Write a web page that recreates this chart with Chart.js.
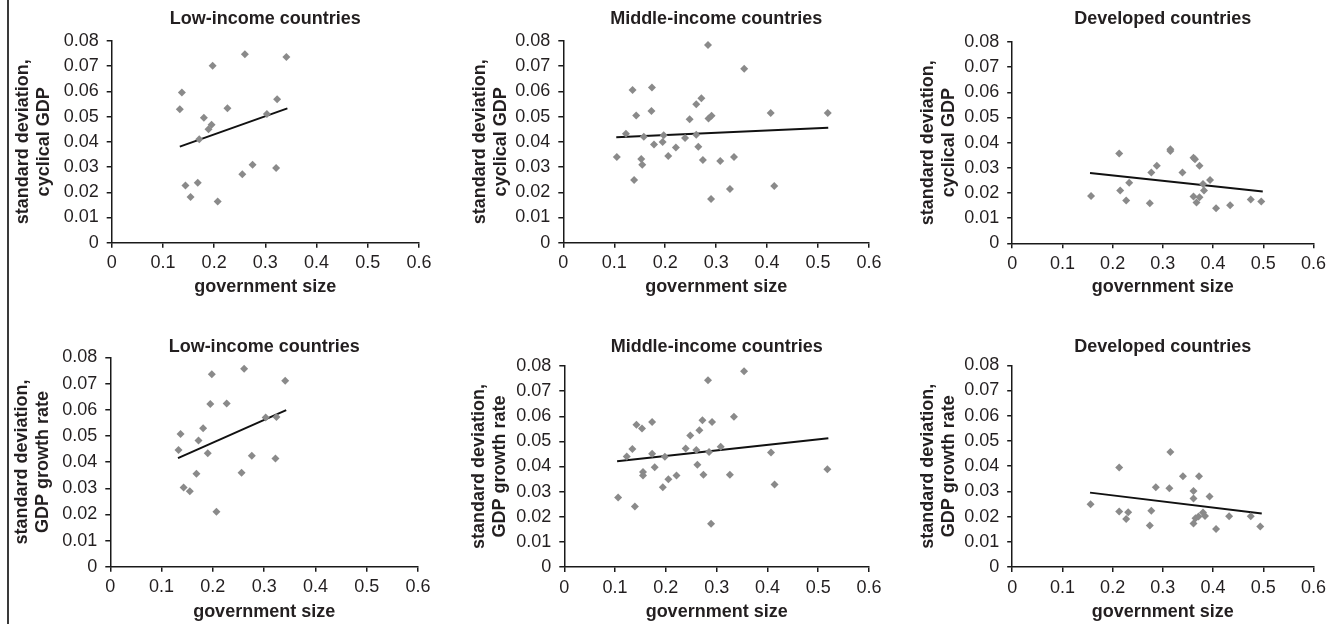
<!DOCTYPE html>
<html>
<head>
<meta charset="utf-8">
<script src="https://cdn.jsdelivr.net/npm/chart.js@4.4.1/dist/chart.umd.min.js"></script>
<style>
  html, body { margin: 0; padding: 0; background: #fff; overflow: hidden; }
  #page { position: relative; width: 1331px; height: 624px; }
  #page canvas { position: absolute; }
  #borde { position: absolute; left: 7px; top: 0; width: 2px; height: 624px; background: #3a3a3a; }
</style>
</head>
<body>
<div id="page">
  <div id="borde"></div>
</div>
<script>
// tick labels
const xTicks = ['0', '0.1', '0.2', '0.3', '0.4', '0.5', '0.6']
const yTicks = ['0', '0.01', '0.02', '0.03', '0.04', '0.05', '0.06', '0.07', '0.08']

const titulos = ['Low-income countries', 'Middle-income countries', 'Developed countries']
const xTitle = 'government size'
const yTitleCyc = ['standard deviation,', 'cyclical GDP']
const yTitleGrow = ['standard deviation,', 'GDP growth rate']

// top row: standard deviation of cyclical GDP
const lowCycX = [0.137, 0.133, 0.197, 0.260, 0.341, 0.323, 0.303, 0.226, 0.180, 0.195, 0.189, 0.171, 0.275, 0.321, 0.255, 0.144, 0.168, 0.154, 0.207]
const lowCycY = [0.0596, 0.0529, 0.0702, 0.0747, 0.0737, 0.0569, 0.0510, 0.0533, 0.0496, 0.0468, 0.0450, 0.0410, 0.0309, 0.0296, 0.0271, 0.0227, 0.0238, 0.0181, 0.0163]
const lowCycFitX = [0.133, 0.343]
const lowCycFitY = [0.0381, 0.0533]

const midCycX = [0.284, 0.355, 0.136, 0.174, 0.173, 0.143, 0.271, 0.261, 0.248, 0.285, 0.291, 0.407, 0.519, 0.123, 0.158, 0.197, 0.195, 0.178, 0.239, 0.261, 0.221, 0.265, 0.105, 0.153, 0.155, 0.206, 0.274, 0.308, 0.335, 0.139, 0.327, 0.414, 0.290]
const midCycY = [0.0784, 0.0690, 0.0606, 0.0616, 0.0522, 0.0505, 0.0573, 0.0549, 0.0490, 0.0493, 0.0504, 0.0514, 0.0514, 0.0432, 0.0420, 0.0426, 0.0399, 0.0389, 0.0415, 0.0428, 0.0378, 0.0381, 0.0340, 0.0332, 0.0309, 0.0344, 0.0328, 0.0324, 0.0340, 0.0249, 0.0213, 0.0225, 0.0173]
const midCycFitX = [0.104, 0.520]
const midCycFitY = [0.0418, 0.0456]

const devCycX = [0.157, 0.213, 0.215, 0.233, 0.227, 0.274, 0.277, 0.288, 0.315, 0.315, 0.339, 0.361, 0.364, 0.373, 0.361, 0.373, 0.367, 0.380, 0.382, 0.394, 0.406, 0.434, 0.475, 0.496]
const devCycY = [0.0188, 0.0357, 0.0210, 0.0241, 0.0170, 0.0159, 0.0281, 0.0308, 0.0374, 0.0367, 0.0281, 0.0340, 0.0334, 0.0308, 0.0186, 0.0183, 0.0162, 0.0236, 0.0210, 0.0252, 0.0139, 0.0151, 0.0174, 0.0166]
const devCycFitX = [0.155, 0.499]
const devCycFitY = [0.0279, 0.0206]

// bottom row: standard deviation of GDP growth rate
const lowGrowX = [0.261, 0.198, 0.341, 0.195, 0.227, 0.303, 0.324, 0.137, 0.181, 0.133, 0.172, 0.190, 0.276, 0.322, 0.168, 0.256, 0.143, 0.155, 0.207]
const lowGrowY = [0.0757, 0.0736, 0.0711, 0.0622, 0.0624, 0.0571, 0.0572, 0.0507, 0.0529, 0.0446, 0.0483, 0.0434, 0.0424, 0.0414, 0.0355, 0.0359, 0.0303, 0.0289, 0.0210]
const lowGrowFitX = [0.132, 0.343]
const lowGrowFitY = [0.0415, 0.0599]

const midGrowX = [0.354, 0.283, 0.334, 0.142, 0.153, 0.173, 0.272, 0.291, 0.266, 0.248, 0.134, 0.123, 0.173, 0.198, 0.239, 0.260, 0.308, 0.285, 0.407, 0.262, 0.178, 0.155, 0.155, 0.221, 0.205, 0.274, 0.326, 0.518, 0.194, 0.414, 0.106, 0.139, 0.289]
const midGrowY = [0.0779, 0.0743, 0.0598, 0.0566, 0.0551, 0.0577, 0.0584, 0.0577, 0.0544, 0.0523, 0.0470, 0.0440, 0.0451, 0.0439, 0.0472, 0.0466, 0.0479, 0.0458, 0.0456, 0.0407, 0.0397, 0.0378, 0.0364, 0.0364, 0.0349, 0.0367, 0.0367, 0.0389, 0.0317, 0.0328, 0.0277, 0.0241, 0.0172]
const midGrowFitX = [0.104, 0.520]
const midGrowFitY = [0.0421, 0.0512]

const devGrowX = [0.315, 0.213, 0.340, 0.372, 0.286, 0.313, 0.361, 0.361, 0.393, 0.156, 0.213, 0.231, 0.227, 0.277, 0.274, 0.361, 0.365, 0.371, 0.380, 0.384, 0.406, 0.432, 0.475, 0.494]
const devGrowY = [0.0456, 0.0395, 0.0360, 0.0360, 0.0316, 0.0312, 0.0301, 0.0272, 0.0280, 0.0249, 0.0220, 0.0217, 0.0190, 0.0223, 0.0165, 0.0173, 0.0193, 0.0200, 0.0216, 0.0202, 0.0151, 0.0201, 0.0201, 0.0161]
const devGrowFitX = [0.155, 0.497]
const devGrowFitY = [0.0295, 0.0212]

const FONT = "'Liberation Sans', Arial, sans-serif"
const TEXT = '#231f20'
const AXIS = '#1a1a1a'

function puntos(xs, ys){
    return xs.map((x, i) => ({x: x, y: ys[i]}))
}

function crearPanel(conf){
    const canvas = document.createElement('canvas')
    canvas.width = conf.w
    canvas.height = conf.h
    canvas.style.left = conf.left + 'px'
    canvas.style.top = conf.top + 'px'
    document.getElementById('page').appendChild(canvas)

    const eje = {
        border: { display: true, color: AXIS, width: 1.5 },
        grid: { display: true, drawOnChartArea: false, drawTicks: true, tickLength: 5, color: AXIS, lineWidth: 1.5 },
        ticks: { color: TEXT, font: { family: FONT, size: 18 }, autoSkip: false }
    }

    return new Chart(canvas.getContext('2d'), {
        type: 'scatter',
        data: {
            datasets: [{
                data: puntos(conf.xs, conf.ys),
                pointStyle: 'rectRot',
                pointRadius: 4,
                backgroundColor: '#8a8a8a',
                borderWidth: 0
            }, {
                type: 'line',
                data: puntos(conf.fitX, conf.fitY),
                borderColor: '#111',
                borderWidth: 2,
                pointRadius: 0,
                fill: false
            }]
        },
        options: {
            responsive: false,
            animation: false,
            layout: { padding: { left: 0, top: 0, bottom: 0, right: conf.padR } },
            plugins: {
                legend: { display: false },
                tooltip: { enabled: false },
                title: {
                    display: true,
                    text: conf.titulo,
                    fullSize: false,
                    color: TEXT,
                    font: { family: FONT, size: 18, weight: 'bold', lineHeight: 1.2 },
                    padding: { top: conf.tTop, bottom: conf.tBottom }
                }
            },
            scales: {
                x: Object.assign({}, eje, {
                    type: 'linear',
                    min: 0, max: 0.6,
                    ticks: Object.assign({}, eje.ticks, { stepSize: 0.1, padding: 5, maxRotation: 0, callback: (v, i) => xTicks[i] }),
                    title: { display: true, text: xTitle, color: TEXT, font: { family: FONT, size: 18, weight: 'bold', lineHeight: 1.2 }, padding: { top: 0, bottom: 2 } },
                    afterFit: s => { s.height = conf.xH }
                }),
                y: Object.assign({}, eje, {
                    type: 'linear',
                    min: 0, max: 0.08,
                    ticks: Object.assign({}, eje.ticks, { stepSize: 0.01, padding: 8, callback: (v, i) => yTicks[i] }),
                    title: { display: true, text: conf.yTitulo, color: TEXT, font: { family: FONT, size: 18, weight: 'bold', lineHeight: 1.15 }, padding: { top: 4.6, bottom: 0 } },
                    afterFit: s => { s.width = conf.yW }
                })
            }
        }
    })
}

// geometria de cada panel
const paneles = [
    { left: 8,     top: 0,   w: 431, h: 300, padR: 20, yW: 103.7, xH: 57.3, tTop: 8.2,  tBottom: 11.2, titulo: titulos[0], yTitulo: yTitleCyc,  xs: lowCycX,  ys: lowCycY,  fitX: lowCycFitX,  fitY: lowCycFitY },
    { left: 465,   top: 0,   w: 424, h: 300, padR: 20, yW: 98.3,  xH: 57.3, tTop: 8.2,  tBottom: 11.2, titulo: titulos[1], yTitulo: yTitleCyc,  xs: midCycX,  ys: midCycY,  fitX: midCycFitX,  fitY: midCycFitY },
    { left: 912.5, top: 0,   w: 418, h: 300, padR: 14, yW: 99.2,  xH: 56.7, tTop: 8.2,  tBottom: 12.2, titulo: titulos[2], yTitulo: yTitleCyc,  xs: devCycX,  ys: devCycY,  fitX: devCycFitX,  fitY: devCycFitY },
    { left: 7,     top: 300, w: 431, h: 325, padR: 20, yW: 103.3, xH: 58.3, tTop: 35.9, tBottom: 0,    titulo: titulos[0], yTitulo: yTitleGrow, xs: lowGrowX, ys: lowGrowY, fitX: lowGrowFitX, fitY: lowGrowFitY },
    { left: 464,   top: 300, w: 425, h: 325, padR: 20, yW: 100.3, xH: 58,   tTop: 35.9, tBottom: 8.5,  titulo: titulos[1], yTitulo: yTitleGrow, xs: midGrowX, ys: midGrowY, fitX: midGrowFitX, fitY: midGrowFitY },
    { left: 912.5, top: 300, w: 418, h: 325, padR: 14, yW: 99.2,  xH: 58,   tTop: 35.9, tBottom: 7.8,  titulo: titulos[2], yTitulo: yTitleGrow, xs: devGrowX, ys: devGrowY, fitX: devGrowFitX, fitY: devGrowFitY }
]

paneles.forEach(p => crearPanel(p))
</script>
</body>
</html>
